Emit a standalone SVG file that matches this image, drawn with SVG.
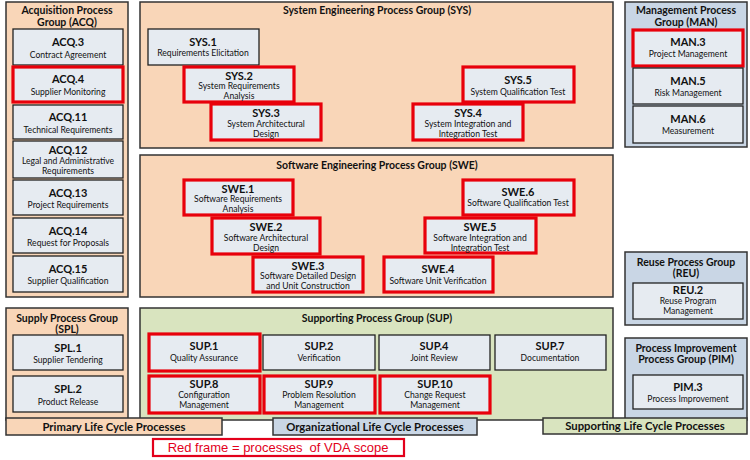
<svg xmlns="http://www.w3.org/2000/svg" width="750" height="460" viewBox="0 0 750 460">
<style>
text{font-family:Lato,"Open Sans","Liberation Sans",sans-serif;text-anchor:middle;fill:#111}
.gp{fill:#F9D6B8;stroke:#333;stroke-width:1.5}
.gb{fill:#C9D6E5;stroke:#333;stroke-width:1.5}
.gg{fill:#D9E4BF;stroke:#333;stroke-width:1.5}
.gt{font-size:10.5px;font-weight:bold}
.n{fill:#E6EBF1;stroke:#222;stroke-width:1.3}
.r{fill:#E6EBF1;stroke:#E8000B;stroke-width:3.2}
.id{font-size:11px;font-weight:bold}
.d{font-size:8.6px}
.bt{font-size:11.3px;font-weight:bold}
.lg{font-family:"Liberation Sans",Arial,sans-serif;font-size:13px;fill:#E3001B}
</style>

<!-- ACQ -->
<g id="grp-acq">
<rect class="gp" x="6" y="2" width="122" height="295"/>
<text class="gt" x="67" y="14">Acquisition Process</text>
<text class="gt" x="67" y="26">Group (ACQ)</text>
</g>
<g id="acq3"><rect class="n" x="13" y="29" width="110" height="36"/><text class="id" x="68" y="46">ACQ.3</text><text class="d" x="68" y="58">Contract Agreement</text></g>
<g id="acq4"><rect class="r" x="13" y="67" width="110" height="35"/><text class="id" x="68" y="83">ACQ.4</text><text class="d" x="68" y="95">Supplier Monitoring</text></g>
<g id="acq11"><rect class="n" x="13" y="105" width="110" height="34"/><text class="id" x="68" y="121">ACQ.11</text><text class="d" x="68" y="133">Technical Requirements</text></g>
<g id="acq12"><rect class="n" x="13" y="141" width="110" height="37"/><text class="id" x="68" y="154">ACQ.12</text><text class="d" x="68" y="164">Legal and Administrative</text><text class="d" x="68" y="174">Requirements</text></g>
<g id="acq13"><rect class="n" x="13" y="180" width="110" height="35"/><text class="id" x="68" y="197">ACQ.13</text><text class="d" x="68" y="208">Project Requirements</text></g>
<g id="acq14"><rect class="n" x="13" y="218" width="110" height="35"/><text class="id" x="68" y="235">ACQ.14</text><text class="d" x="68" y="246">Request for Proposals</text></g>
<g id="acq15"><rect class="n" x="13" y="256" width="110" height="36"/><text class="id" x="68" y="273">ACQ.15</text><text class="d" x="68" y="284">Supplier Qualification</text></g>

<!-- SPL -->
<g id="grp-spl">
<rect class="gp" x="6" y="308" width="122" height="112"/>
<text class="gt" x="67" y="322">Supply Process Group</text>
<text class="gt" x="67" y="333">(SPL)</text>
</g>
<g id="spl1"><rect class="n" x="13" y="335" width="110" height="35"/><text class="id" x="68" y="352">SPL.1</text><text class="d" x="68" y="363">Supplier Tendering</text></g>
<g id="spl2"><rect class="n" x="13" y="376" width="110" height="36"/><text class="id" x="68" y="393">SPL.2</text><text class="d" x="68" y="405">Product Release</text></g>

<!-- SYS -->
<g id="grp-sys">
<rect class="gp" x="140" y="2" width="473" height="146"/>
<text class="gt" x="377" y="14">System Engineering Process Group (SYS)</text>
</g>
<g id="sys1"><rect class="n" x="148" y="29" width="111" height="36"/><text class="id" x="203" y="46">SYS.1</text><text class="d" x="203" y="56">Requirements Elicitation</text></g>
<g id="sys2"><rect class="r" x="184" y="67" width="110" height="35"/><text class="id" x="239" y="80">SYS.2</text><text class="d" x="239" y="89">System Requirements</text><text class="d" x="239" y="99">Analysis</text></g>
<g id="sys3"><rect class="r" x="211" y="104" width="110" height="36"/><text class="id" x="266" y="117">SYS.3</text><text class="d" x="266" y="127">System Architectural</text><text class="d" x="266" y="137">Design</text></g>
<g id="sys5"><rect class="r" x="463" y="67" width="111" height="35"/><text class="id" x="518" y="84">SYS.5</text><text class="d" x="518" y="95">System Qualification Test</text></g>
<g id="sys4"><rect class="r" x="413" y="104" width="110" height="36"/><text class="id" x="468" y="117">SYS.4</text><text class="d" x="468" y="127">System Integration and</text><text class="d" x="468" y="137">Integration Test</text></g>

<!-- MAN -->
<g id="grp-man">
<rect class="gb" x="625" y="2" width="122" height="145"/>
<text class="gt" x="686" y="14">Management Process</text>
<text class="gt" x="686" y="26">Group (MAN)</text>
</g>
<g id="man3"><rect class="r" x="633" y="30" width="110" height="36"/><text class="id" x="688" y="46">MAN.3</text><text class="d" x="688" y="57">Project Management</text></g>
<g id="man5"><rect class="n" x="633" y="68" width="110" height="36"/><text class="id" x="688" y="85">MAN.5</text><text class="d" x="688" y="96">Risk Management</text></g>
<g id="man6"><rect class="n" x="633" y="106" width="110" height="37"/><text class="id" x="688" y="123">MAN.6</text><text class="d" x="688" y="134">Measurement</text></g>

<!-- SWE -->
<g id="grp-swe">
<rect class="gp" x="140" y="155" width="473" height="142"/>
<text class="gt" x="377" y="169">Software Engineering Process Group (SWE)</text>
</g>
<g id="swe1"><rect class="r" x="184" y="180" width="109" height="35"/><text class="id" x="238" y="193">SWE.1</text><text class="d" x="238" y="202">Software Requirements</text><text class="d" x="238" y="212">Analysis</text></g>
<g id="swe2"><rect class="r" x="212" y="218" width="108" height="36"/><text class="id" x="266" y="231">SWE.2</text><text class="d" x="266" y="241">Software Architectural</text><text class="d" x="266" y="251">Design</text></g>
<g id="swe3"><rect class="r" x="253" y="257" width="110" height="35"/><text class="id" x="308" y="270">SWE.3</text><text class="d" x="308" y="279">Software Detailed Design</text><text class="d" x="308" y="289">and Unit Construction</text></g>
<g id="swe6"><rect class="r" x="463" y="180" width="111" height="35"/><text class="id" x="518" y="196">SWE.6</text><text class="d" x="518" y="206">Software Qualification Test</text></g>
<g id="swe5"><rect class="r" x="425" y="218" width="111" height="35"/><text class="id" x="480" y="231">SWE.5</text><text class="d" x="480" y="241">Software Integration and</text><text class="d" x="480" y="251">Integration Test</text></g>
<g id="swe4"><rect class="r" x="384" y="257" width="109" height="35"/><text class="id" x="438" y="273">SWE.4</text><text class="d" x="438" y="284">Software Unit Verification</text></g>

<!-- REU -->
<g id="grp-reu">
<rect class="gb" x="625" y="252" width="122" height="73"/>
<text class="gt" x="686" y="266">Reuse Process Group</text>
<text class="gt" x="686" y="277">(REU)</text>
</g>
<g id="reu2"><rect class="n" x="633" y="283" width="110" height="36"/><text class="id" x="688" y="294">REU.2</text><text class="d" x="688" y="304">Reuse Program</text><text class="d" x="688" y="314">Management</text></g>

<!-- PIM -->
<g id="grp-pim">
<rect class="gb" x="625" y="338" width="122" height="82"/>
<text class="gt" x="686" y="352">Process Improvement</text>
<text class="gt" x="686" y="363">Process Group (PIM)</text>
</g>
<g id="pim3"><rect class="n" x="633" y="375" width="110" height="34"/><text class="id" x="688" y="391">PIM.3</text><text class="d" x="688" y="402">Process Improvement</text></g>

<!-- SUP -->
<g id="grp-sup">
<rect class="gg" x="140" y="308" width="473" height="112"/>
<text class="gt" x="377" y="322">Supporting Process Group (SUP)</text>
</g>
<g id="sup1"><rect class="r" x="149" y="334" width="111" height="37"/><text class="id" x="204" y="350">SUP.1</text><text class="d" x="204" y="361">Quality Assurance</text></g>
<g id="sup2"><rect class="n" x="263" y="335" width="112" height="35"/><text class="id" x="319" y="350">SUP.2</text><text class="d" x="319" y="361">Verification</text></g>
<g id="sup4"><rect class="n" x="379" y="335" width="111" height="35"/><text class="id" x="434" y="350">SUP.4</text><text class="d" x="434" y="361">Joint Review</text></g>
<g id="sup7"><rect class="n" x="495" y="335" width="111" height="35"/><text class="id" x="550" y="350">SUP.7</text><text class="d" x="550" y="361">Documentation</text></g>
<g id="sup8"><rect class="r" x="149" y="376" width="111" height="37"/><text class="id" x="204" y="388">SUP.8</text><text class="d" x="204" y="398">Configuration</text><text class="d" x="204" y="408">Management</text></g>
<g id="sup9"><rect class="r" x="264" y="376" width="111" height="37"/><text class="id" x="319" y="388">SUP.9</text><text class="d" x="319" y="398">Problem Resolution</text><text class="d" x="319" y="408">Management</text></g>
<g id="sup10"><rect class="r" x="380" y="376" width="110" height="37"/><text class="id" x="435" y="388">SUP.10</text><text class="d" x="435" y="398">Change Request</text><text class="d" x="435" y="408">Management</text></g>

<!-- Category bars -->
<g id="bar-primary"><rect class="gp" x="6" y="418" width="216" height="17"/><text class="bt" x="114" y="431">Primary Life Cycle Processes</text></g>
<g id="bar-org"><rect class="gb" x="273" y="418" width="204" height="17"/><text class="bt" x="375" y="431">Organizational Life Cycle Processes</text></g>
<g id="bar-sup"><rect class="gg" x="543" y="418" width="204" height="16"/><text class="bt" x="645" y="430">Supporting Life Cycle Processes</text></g>

<!-- Legend -->
<g id="legend"><rect x="153" y="439" width="251" height="17" fill="#fff" stroke="#E3001B" stroke-width="2.2"/><text class="lg" x="278" y="452" xml:space="preserve">Red frame = processes  of VDA scope</text></g>
</svg>
